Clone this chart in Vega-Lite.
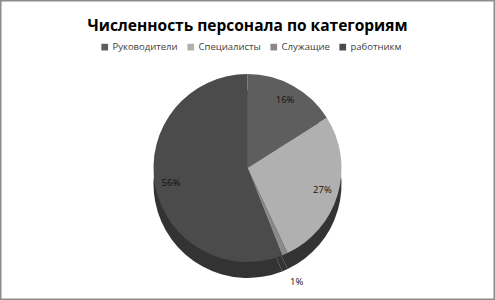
{
  "$schema": "https://vega.github.io/schema/vega-lite/v6.json",
  "width": 495,
  "height": 300,
  "autosize": {"type": "fit", "contains": "padding"},
  "padding": 0,
  "background": "white",
  "view": {"stroke": "#8c8c8c", "strokeWidth": 3, "fill": "white"},
  "title": {
    "text": "Численность персонала по категориям",
    "font": "Open Sans",
    "fontSize": 15.5,
    "fontWeight": "bold",
    "color": "#000000",
    "anchor": "middle",
    "orient": "top",
    "offset": -34,
    "baseline": "top"
  },
  "data": {
    "values": [
      {"cat": "Руководители", "v": 0.16, "i": 1},
      {"cat": "Специалисты", "v": 0.27, "i": 2},
      {"cat": "Служащие", "v": 0.01, "i": 3},
      {"cat": "работникм", "v": 0.56, "i": 4}
    ]
  },
  "layer": [
    {
      "mark": {"type": "arc", "outerRadius": 94, "y": {"expr": "height/2 + 34"}, "color": "#333333"},
      "encoding": {
        "theta": {"field": "v", "type": "quantitative", "stack": true},
        "order": {"field": "i", "type": "quantitative"}
      }
    },
    {
      "mark": {"type": "arc", "outerRadius": 94, "y": {"expr": "height/2 + 18"}},
      "encoding": {
        "theta": {"field": "v", "type": "quantitative", "stack": true},
        "order": {"field": "i", "type": "quantitative"},
        "color": {
          "field": "cat",
          "type": "nominal",
          "sort": ["Руководители", "Специалисты", "Служащие", "работникм"],
          "scale": {
            "domain": ["Руководители", "Специалисты", "Служащие", "работникм"],
            "range": ["#5e5e5e", "#b0b0b0", "#8a8a8a", "#4b4b4b"]
          },
          "legend": {
            "title": null,
            "orient": "none",
            "direction": "horizontal",
            "legendX": 100,
            "legendY": 42,
            "symbolType": "square",
            "symbolSize": 45,
            "labelFont": "Open Sans",
            "labelFontSize": 9.5,
            "labelColor": "#404040",
            "columnPadding": 8,
            "labelOffset": 3
          }
        }
      }
    },
    {
      "mark": {"type": "text", "radius": 78, "y": {"expr": "height/2 + 18"}, "font": "Open Sans", "fontSize": 9.5, "color": "#111111"},
      "encoding": {
        "theta": {"field": "v", "type": "quantitative", "stack": true},
        "order": {"field": "i", "type": "quantitative"},
        "text": {"condition": {"test": "datum.v < 0.05", "value": ""}, "field": "v", "type": "quantitative", "format": ".0%"}
      }
    },
    {
      "mark": {"type": "text", "radius": 124, "y": {"expr": "height/2 + 18"}, "font": "Open Sans", "fontSize": 9.5, "color": "#111111"},
      "encoding": {
        "theta": {"field": "v", "type": "quantitative", "stack": true},
        "order": {"field": "i", "type": "quantitative"},
        "text": {"condition": {"test": "datum.v >= 0.05", "value": ""}, "field": "v", "type": "quantitative", "format": ".0%"}
      }
    }
  ]
}
